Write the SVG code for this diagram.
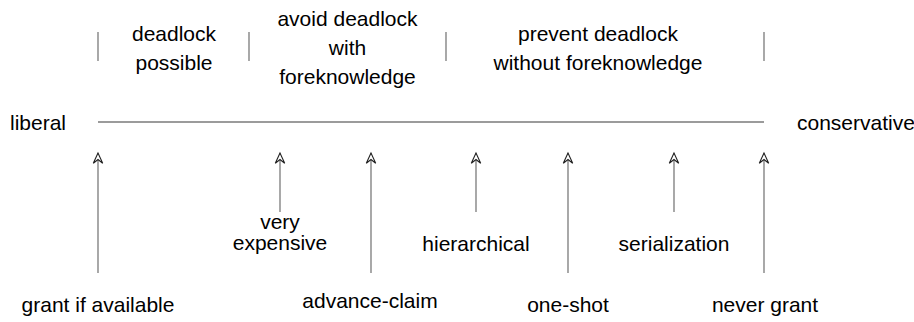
<svg xmlns="http://www.w3.org/2000/svg" width="914" height="322" viewBox="0 0 914 322">
<style>
  text { font-family: "Liberation Sans", Arial, sans-serif; font-size: 21px; fill: #000; text-anchor: middle; }
  .ln { stroke: #7a7a7a; stroke-width: 1.3; fill: none; }
  .arr { stroke: #7a7a7a; stroke-width: 1.3; fill: none; marker-end: url(#ah); }
</style>
<defs>
  <marker id="ah" markerUnits="userSpaceOnUse" markerWidth="13" markerHeight="12" refX="11" refY="6" orient="auto" viewBox="0 0 13 12">
    <path d="M11,6 L0.7,1.3 L4.5,6 L0.7,10.7 Z" fill="#fff" stroke="#222" stroke-width="1.1"/>
  </marker>
</defs>
<rect width="914" height="322" fill="#fff"/>

<g id="scale">
  <line class="ln" x1="98" y1="122" x2="764" y2="122"/>
  <line class="ln" x1="98" y1="32" x2="98" y2="61"/>
  <line class="ln" x1="249" y1="32" x2="249" y2="61"/>
  <line class="ln" x1="446" y1="32" x2="446" y2="61"/>
  <line class="ln" x1="764" y1="32" x2="764" y2="61"/>
</g>

<g id="liberal"><text x="10" y="130" style="text-anchor:start">liberal</text></g>
<g id="conservative"><text x="797" y="130" style="text-anchor:start">conservative</text></g>

<g id="region-possible">
  <text x="174" y="41">deadlock</text>
  <text x="174" y="70">possible</text>
</g>
<g id="region-avoid">
  <text x="347.5" y="26">avoid deadlock</text>
  <text x="347.5" y="55">with</text>
  <text x="347.5" y="84">foreknowledge</text>
</g>
<g id="region-prevent">
  <text x="598" y="41">prevent deadlock</text>
  <text x="598" y="70">without foreknowledge</text>
</g>

<g id="grant-if-available"><text x="98" y="312">grant if available</text></g>
<g id="very-expensive">
  <text x="280" y="229">very</text>
  <text x="280" y="250">expensive</text>
</g>
<g id="advance-claim"><text x="370" y="308">advance-claim</text></g>
<g id="hierarchical"><text x="476" y="251">hierarchical</text></g>
<g id="one-shot"><text x="568" y="312">one-shot</text></g>
<g id="serialization"><text x="674" y="251">serialization</text></g>
<g id="never-grant"><text x="765" y="312">never grant</text></g>

<g id="connectors">
  <line class="arr" x1="98" y1="273" x2="98" y2="153"/>
  <line class="arr" x1="280" y1="212" x2="280" y2="153"/>
  <line class="arr" x1="371" y1="273" x2="371" y2="153"/>
  <line class="arr" x1="476" y1="212" x2="476" y2="153"/>
  <line class="arr" x1="568" y1="273" x2="568" y2="153"/>
  <line class="arr" x1="674" y1="212" x2="674" y2="153"/>
  <line class="arr" x1="764" y1="273" x2="764" y2="153"/>
</g>
</svg>
